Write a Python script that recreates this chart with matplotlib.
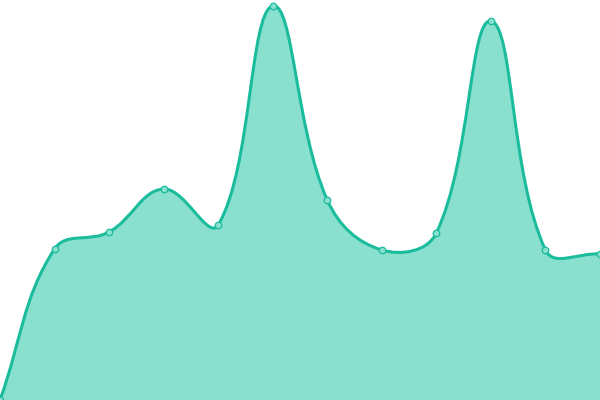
import numpy as np
import matplotlib
matplotlib.use("Agg")
import matplotlib.pyplot as plt
from matplotlib.path import Path
from matplotlib.patches import PathPatch

# values (0..400 scale, 12 evenly spaced points)
x_idx = list(range(12))
werte = [0, 151, 168, 211, 175, 394, 200, 150, 167, 379, 150, 146]

LINIE = "#1abc9c"
FLAECHE = "#8ae0cf"
TENSION = 0.4

fig = plt.figure(figsize=(6, 4), dpi=100)
ax = fig.add_axes([0, 0, 1, 1])
ax.set_xlim(0, 11)
ax.set_ylim(0, 400)
ax.axis("off")

# work in pixel units so the spline matches a canvas-style tension curve
px = np.array(x_idx) * 600 / 11
py = np.array(werte, dtype=float)
n = len(px)

cp_in = np.zeros((n, 2))
cp_out = np.zeros((n, 2))
for i in range(n):
    prev = np.array([px[max(i - 1, 0)], py[max(i - 1, 0)]])
    cur = np.array([px[i], py[i]])
    nxt = np.array([px[min(i + 1, n - 1)], py[min(i + 1, n - 1)]])
    d01 = np.hypot(*(cur - prev))
    d12 = np.hypot(*(nxt - cur))
    tot = d01 + d12
    s01 = d01 / tot if tot else 0
    s12 = d12 / tot if tot else 0
    cp_in[i] = cur - TENSION * s01 * (nxt - prev)
    cp_out[i] = cur + TENSION * s12 * (nxt - prev)

verts = [(px[0], py[0])]
codes = [Path.MOVETO]
for i in range(n - 1):
    verts += [tuple(cp_out[i]), tuple(cp_in[i + 1]), (px[i + 1], py[i + 1])]
    codes += [Path.CURVE4] * 3

to_data = lambda v: [(a * 11 / 600, b) for a, b in v]

fill_verts = to_data(verts) + [(11, 0), (0, 0), (0, werte[0])]
fill_codes = codes + [Path.LINETO, Path.LINETO, Path.CLOSEPOLY]
ax.add_patch(PathPatch(Path(fill_verts, fill_codes), facecolor=FLAECHE,
                       edgecolor="none", zorder=1))
ax.add_patch(PathPatch(Path(to_data(verts), codes), facecolor="none",
                       edgecolor=LINIE, lw=2.2, zorder=2))

ax.scatter(x_idx, werte, s=22, facecolor=FLAECHE, edgecolor=LINIE,
           linewidth=0.9, zorder=3, clip_on=False)

plt.savefig("out.png", dpi=100)
plt.close()
